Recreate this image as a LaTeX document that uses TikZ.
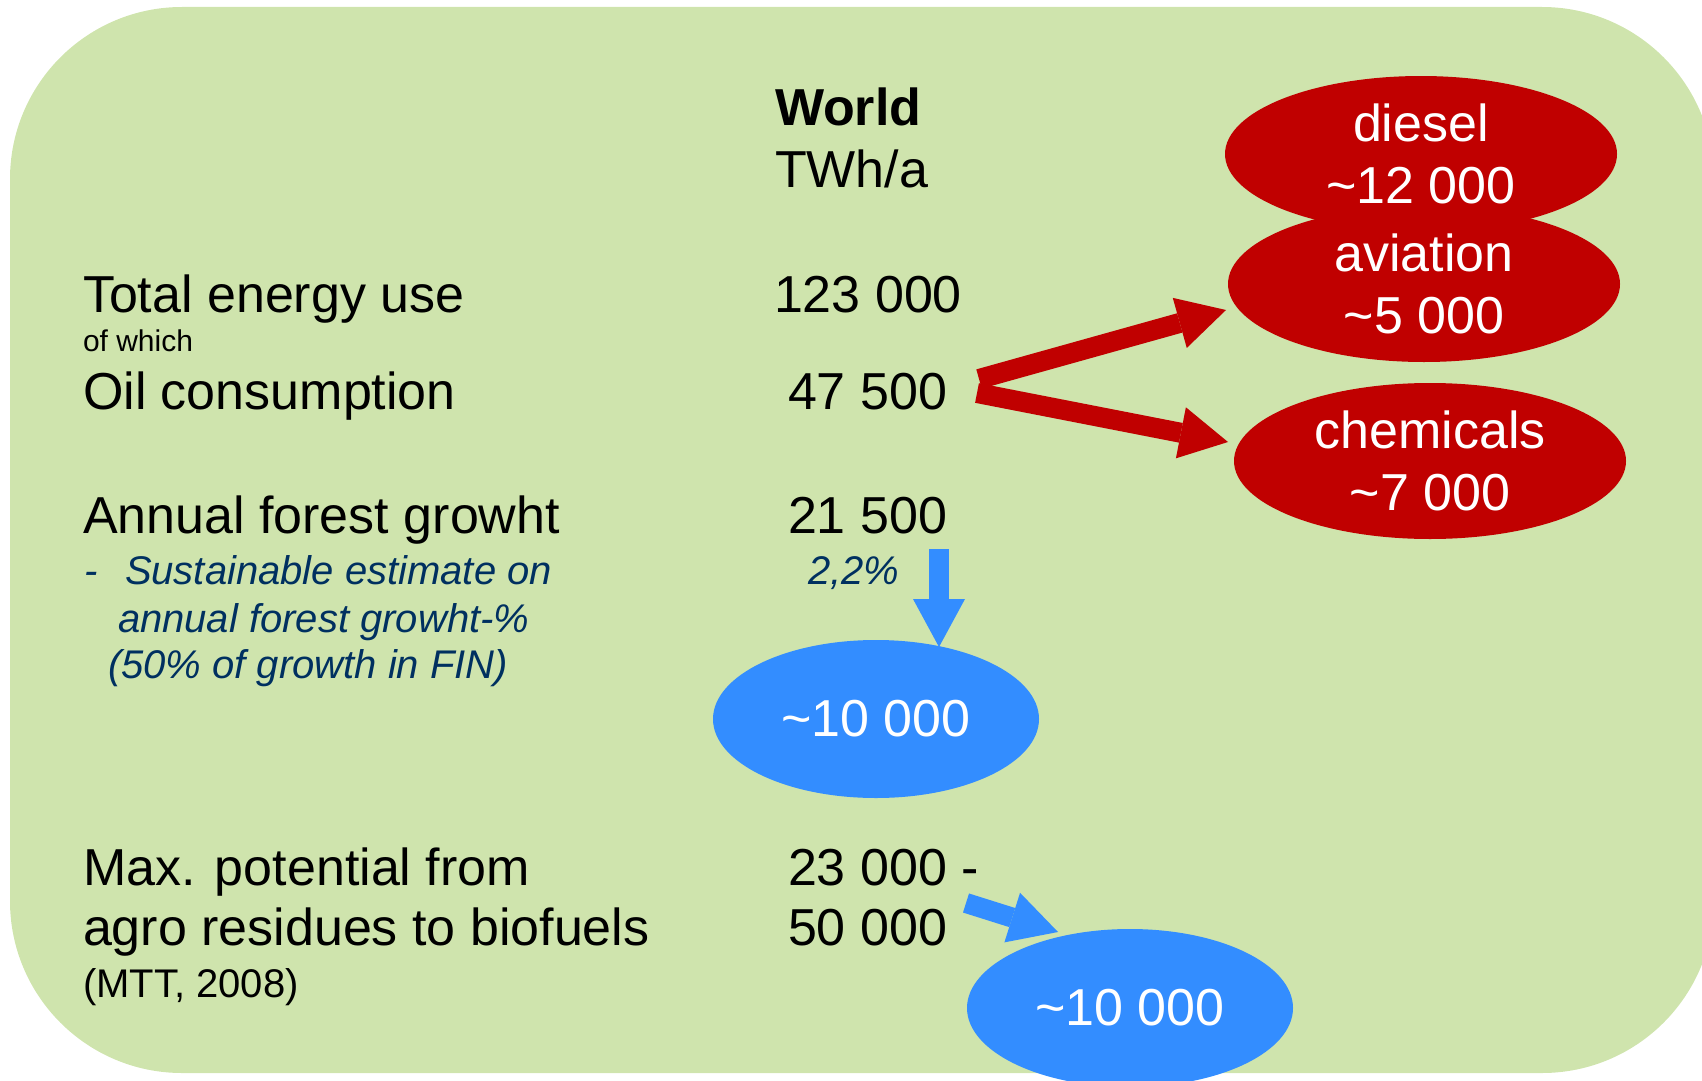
\documentclass[tikz,border=0pt]{standalone}
\usepackage{fontspec}
\setmainfont{Liberation Sans}
\usetikzlibrary{shapes.geometric,arrows.meta}

\definecolor{panelgreen}{RGB}{207,228,173}
\definecolor{oilred}{RGB}{192,0,0}
\definecolor{woodblue}{RGB}{51,141,255}
\definecolor{notenavy}{RGB}{0,48,96}

\tikzset{
  lbl/.style={anchor=base west, inner sep=0pt, outer sep=0pt},
  big/.style={lbl, font=\fontsize{52}{62}\selectfont},
  bigbold/.style={lbl, font=\fontsize{52}{62}\selectfont\bfseries},
  small/.style={lbl, font=\fontsize{30}{36}\selectfont},
  source/.style={lbl, font=\fontsize{40}{48}\selectfont},
  note/.style={lbl, font=\fontsize{40}{47}\selectfont\itshape, text=notenavy},
  redblob/.style={ellipse, fill=oilred, inner sep=0pt,
    minimum width=392pt, minimum height=156pt},
  blueblob/.style={ellipse, fill=woodblue, inner sep=0pt,
    minimum width=326pt, minimum height=158pt},
  inscr/.style={font=\fontsize{52}{62}\selectfont, text=white,
    align=center, inner sep=0pt},
  fatarrow/.style={line width=20pt,
    -{Triangle[length=48pt,width=52pt,line width=0pt]}},
}

\begin{document}
\begin{tikzpicture}[x=1pt,y=-1pt]
  \useasboundingbox (0,0) rectangle (1702,1081);
  \clip (0,0) rectangle (1702,1081);

  % panel
  \fill[panelgreen, rounded corners=172pt] (10,7) rectangle (1714,1073);

  % column header
  \node[bigbold] (world) at (775,125) {World};
  \node[big] (unit) at (775,187) {TWh/a};

  % row labels
  \node[big] (total) at (83,312) {Total energy use};
  \node[small] (ofwhich) at (83,351) {of which};
  \node[big] (oil) at (83,409) {Oil consumption};
  \node[big] (forest) at (83,533) {Annual forest growht};
  \node[note] (dash) at (84,584) {-};
  \node[note] (noteA) at (125,584) {Sustainable estimate on};
  \node[note] (noteB) at (118,632) {annual forest growht-\%};
  \node[note] (noteC) at (108,678) {(50\% of growth in FIN)};
  \node[big] (maxpot) at (83,885) {Max. potential from};
  \node[big] (agro) at (83,945) {agro residues to biofuels};
  \node[source] (mtt) at (83,997) {(MTT, 2008)};

  % values
  \node[big] (vTotal) at (774,312) {123 000};
  \node[big] (vOil) at (788,409) {47 500};
  \node[big] (vForest) at (788,533) {21 500};
  \node[note] (vRate) at (808,584) {2,2\%};
  \node[big] (vAgroA) at (788,885) {23 000 -};
  \node[big] (vAgroB) at (788,945) {50 000};

  % oil uses
  \node[redblob] (diesel) at (1421,154) {};
  \node[inscr] at (diesel) {diesel\\\textasciitilde12 000};
  \node[redblob] (aviation) at (1424,284) {};
  \node[inscr] at (aviation) {aviation\\\textasciitilde5 000};
  \node[redblob] (chemicals) at (1430,461) {};
  \node[inscr] at (chemicals) {chemicals\\\textasciitilde7 000};

  % biofuel potentials
  \node[blueblob] (woodFuel) at (876,719) {};
  \node[inscr] at (woodFuel) {\textasciitilde10 000};
  \node[blueblob] (agroFuel) at (1130,1008) {};
  \node[inscr] at (agroFuel) {\textasciitilde10 000};

  % arrow ends
  \coordinate (oilUp) at (979,379);
  \coordinate (oilDown) at (977,393);
  \coordinate (aviationIn) at (1226,310);
  \coordinate (chemicalsIn) at (1228,442);
  \coordinate (rateOut) at (939,549);
  \coordinate (woodIn) at (939,647);
  \coordinate (agroOut) at (966,903);
  \coordinate (agroIn) at (1058,932);

  \draw[fatarrow, oilred] (oilUp) -- (aviationIn);
  \draw[fatarrow, oilred] (oilDown) -- (chemicalsIn);
  \draw[fatarrow, woodblue] (rateOut) -- (woodIn);
  \draw[fatarrow, woodblue] (agroOut) -- (agroIn);
\end{tikzpicture}
\end{document}
